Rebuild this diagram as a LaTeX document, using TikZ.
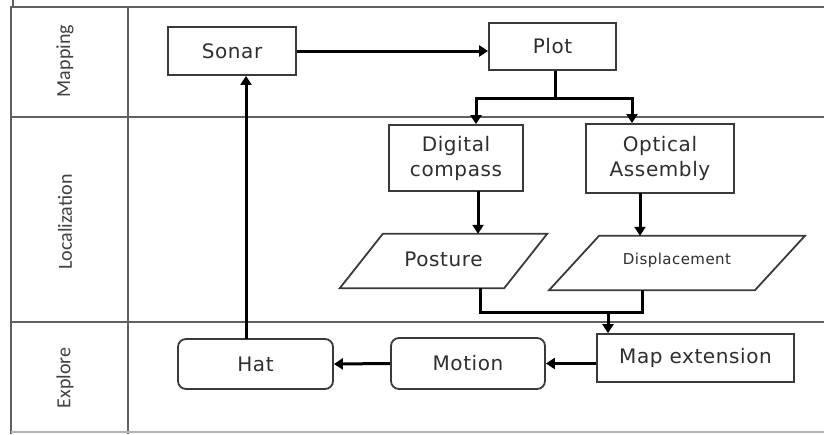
\documentclass[tikz,border=0pt]{standalone}
\usepackage{fontspec}
\setmainfont[LetterSpace=3]{DejaVu Sans}
\newfontfamily\lanefont{Carlito}
\usetikzlibrary{arrows.meta,calc}

\definecolor{framecol}{HTML}{606060}
\definecolor{boxcol}{HTML}{3A3A3A}
\definecolor{txtcol}{HTML}{2E2E2E}

\tikzset{
  frameline/.style={draw=framecol, line width=1.8pt},
  lanelabel/.style={rotate=90, font=\lanefont\fontsize{20}{20}\selectfont, text=black!75},
  procbox/.style={draw=boxcol, line width=1.8pt, rectangle, text=txtcol,
    font=\fontsize{20}{25}\selectfont, align=center, inner sep=0pt},
  roundbox/.style={procbox, rounded corners=8pt},
  databody/.style={rectangle, text=txtcol, inner sep=0pt, align=center},
  dataedge/.style={draw=boxcol, line width=1.8pt, line join=miter},
  flow/.style={draw=black, line width=3pt,
    -{Triangle[width=11pt,length=9pt]}},
  flowline/.style={draw=black, line width=3pt},
}

\begin{document}
\begin{tikzpicture}[x=1pt, y=-1pt]
  \useasboundingbox (0,0) rectangle (824,434);

  % swimlane frame
  \draw[frameline] (824,7) -- (11,7) -- (11,434);
  \draw[frameline] (13,0) -- (13,6);
  \draw[frameline] (128,7) -- (128,434);
  \draw[frameline] (11,117) -- (824,117);
  \draw[frameline] (11,322) -- (824,322);
  \draw[draw=black!30, line width=1.4pt] (11,432) -- (824,432);

  % lane titles
  \node[lanelabel] (lmap) at (65,61) {Mapping};
  \node[lanelabel] (lloc) at (65,222) {Localization};
  \node[lanelabel] (lexp) at (65,378) {Explore};

  % Mapping lane
  \node[procbox, minimum width=128pt, minimum height=48pt] (sonar) at (232,51) {Sonar};
  \node[procbox, minimum width=127pt, minimum height=47pt] (plot) at (552.5,46.5) {Plot};

  % Localization lane
  \node[procbox, minimum width=134pt, minimum height=66pt] (dc) at (456,158) {Digital\\compass};
  \node[procbox, minimum width=148pt, minimum height=69pt] (oa) at (660,158.5) {Optical\\Assembly};

  % data (parallelogram) nodes: the node holds the text, its outline is slanted
  \node[databody, minimum width=164pt, minimum height=54pt,
        font=\fontsize{20}{24}\selectfont] (posture) at (443.5,261) {\raisebox{3pt}{Posture}};
  \draw[dataedge] ($(posture.south west)+(-21.5,0)$) -- ($(posture.north west)+(21.5,0)$)
    -- ($(posture.north east)+(21.5,0)$) -- ($(posture.south east)+(-21.5,0)$) -- cycle;
  \node[databody, minimum width=205.5pt, minimum height=54pt,
        font=\fontsize{15}{17}\selectfont] (disp) at (677,263) {\raisebox{8pt}{Displacement}};
  \draw[dataedge] ($(disp.south west)+(-25,0)$) -- ($(disp.north west)+(25,0)$)
    -- ($(disp.north east)+(25,0)$) -- ($(disp.south east)+(-25,0)$) -- cycle;

  % Explore lane
  \node[procbox, minimum width=197pt, minimum height=48pt] (mapext) at (695.5,358) {Map extension};
  \node[roundbox, minimum width=154pt, minimum height=51pt] (motion) at (468,363.5) {Motion};
  \node[roundbox, minimum width=155pt, minimum height=50pt] (hat) at (255.5,364) {Hat};

  % bend and branch points of the routed connectors
  \coordinate (split) at (555,98);
  \coordinate (toDC) at (476,98);
  \coordinate (toOA) at (632,98);
  \coordinate (dcOut) at (478,191);
  \coordinate (oaOut) at (640,193);
  \coordinate (pOut) at (480,288);
  \coordinate (dOut) at (642,290);
  \coordinate (merge) at (608,312);
  \coordinate (hatOut) at (246,339);

  % connectors
  \draw[flow] (sonar.east) -- (sonar.east -| plot.west);
  \draw[flowline] (plot.south -| split) -- (split);
  \draw[flow] (split) -- (toDC) -- (toDC |- dc.north);
  \draw[flow] (split) -- (toOA) -- (toOA |- oa.north);
  \draw[flow] (dcOut) -- (dcOut |- posture.north);
  \draw[flow] (oaOut) -- (oaOut |- disp.north);
  \draw[flowline] (pOut) |- (merge) -| (dOut);
  \draw[flow] (merge) -- (merge |- mapext.north);
  \draw[flow] (motion.east -| mapext.west) -- (motion.east);
  \draw[flow] (motion.west) -- (hat.east);
  \draw[flow] (hatOut) -- (hatOut |- sonar.south);
\end{tikzpicture}
\end{document}
